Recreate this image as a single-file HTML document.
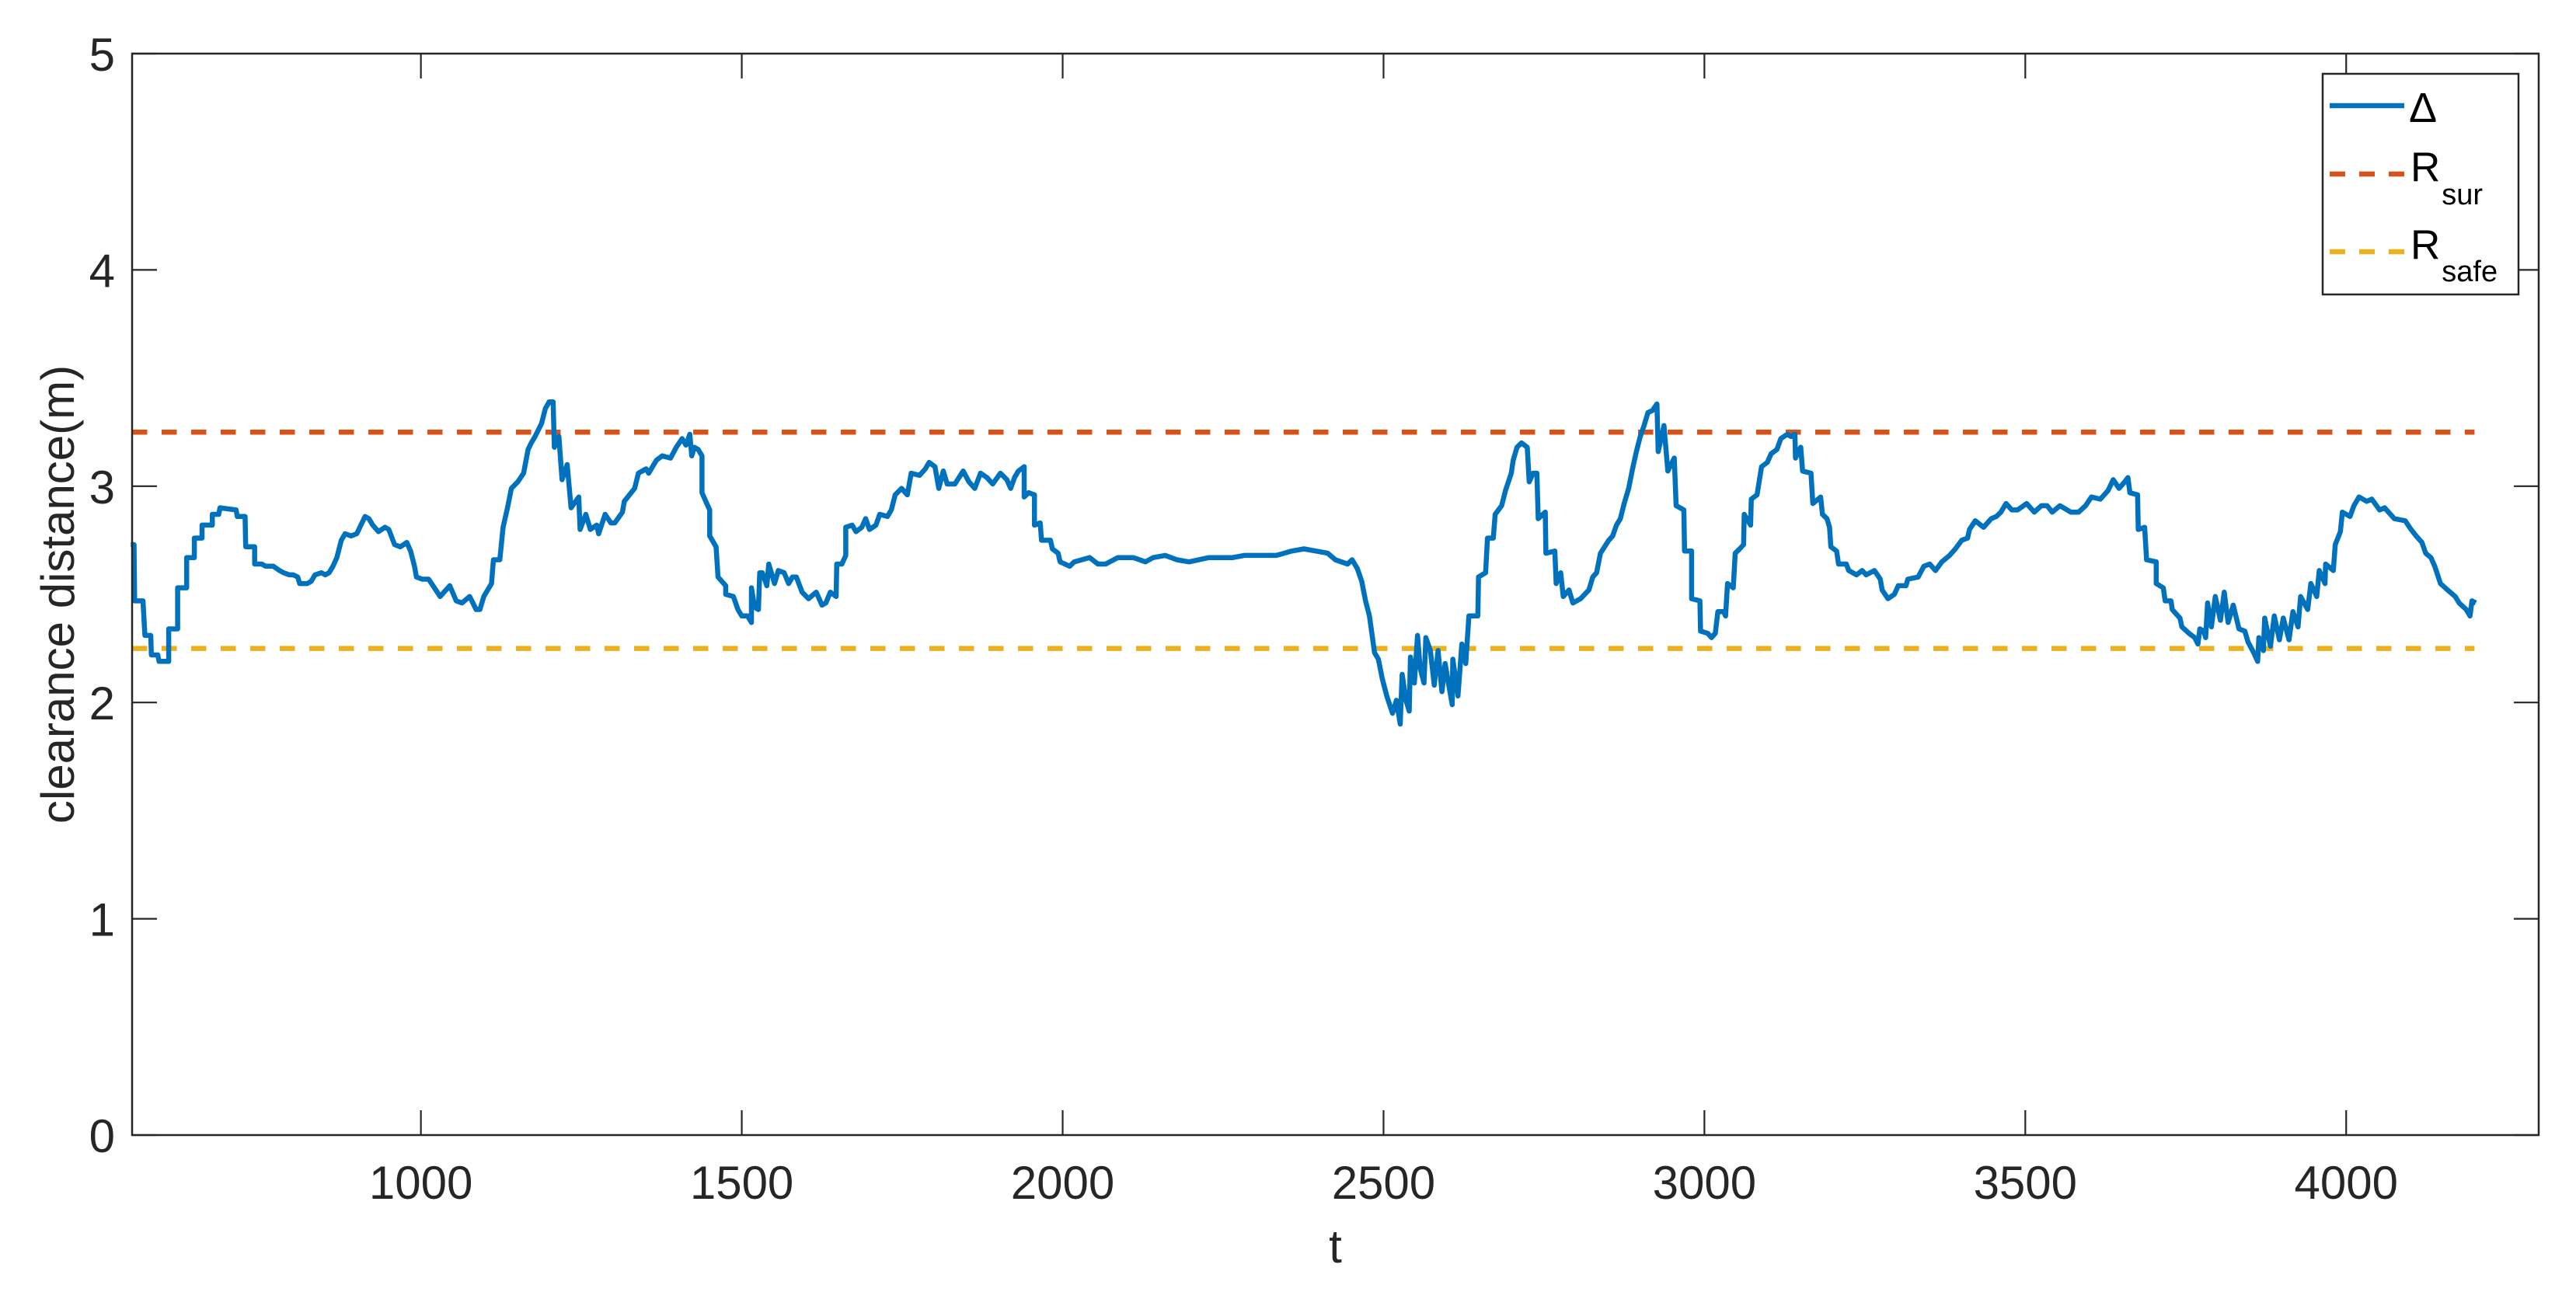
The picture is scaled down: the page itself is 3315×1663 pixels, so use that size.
<!DOCTYPE html>
<html><head><meta charset="utf-8"><style>
html,body{margin:0;padding:0;background:#fff;}
svg{display:block;}
text{font-family:"Liberation Sans",Arial,sans-serif;fill:#262626;}
</style></head><body>
<svg id="chart" width="3315" height="1663" viewBox="0 0 3315 1663" xmlns="http://www.w3.org/2000/svg">
<rect x="0" y="0" width="3315" height="1663" fill="#fff"/>
<g id="plot"></g>
<g id="axes"></g>
<g id="legend">
<rect x="2989" y="95" width="252" height="284" fill="#fff" stroke="#262626" stroke-width="2.5"/>
<line x1="2998" y1="136" x2="3094" y2="136" stroke="#0072BD" stroke-width="6.5"/>
<text x="3100" y="157" font-size="54" style="fill:#000">Δ</text>
<line x1="2998" y1="224" x2="3094" y2="224" stroke="#D95319" stroke-width="6.5" stroke-dasharray="20 18"/>
<text x="3102" y="233" font-size="53" style="fill:#000">R<tspan font-size="38" dx="2" dy="30">sur</tspan></text>
<line x1="2998" y1="324" x2="3094" y2="324" stroke="#EDB120" stroke-width="6.5" stroke-dasharray="20 18"/>
<text x="3102" y="333" font-size="53" style="fill:#000">R<tspan font-size="38" dx="2" dy="29">safe</tspan></text>
</g>
</svg>
<script>
const xTicks = [1000,1500,2000,2500,3000,3500,4000];
const yTicks = [0,1,2,3,4,5];
const xDomain = [550,4300];
const yDomain = [0,5];
const rSur = 3.25;
const rSafe = 2.25;
const refLineRange = [550,4200];
const tValues = [548,553,554,567,570,579,580,590,592,607,607,621,621,635,635,647,647,659,659,675,675,685,687,712,714,726,727,741,741,752,758,770,780,786,795,801,808,811,823,829,835,845,851,857,863,869,876,882,891,900,913,919,925,934,944,950,959,968,978,984,990,993,1002,1012,1021,1030,1036,1045,1055,1064,1076,1086,1092,1098,1110,1113,1123,1128,1135,1141,1151,1160,1167,1172,1178,1188,1194,1200,1206,1208,1215,1220,1228,1234,1246,1248,1257,1264,1274,1277,1287,1296,1302,1314,1317,1333,1339,1351,1355,1367,1376,1389,1398,1407,1413,1419,1422,1426,1432,1438,1438,1444,1450,1450,1460,1463,1475,1475,1487,1494,1500,1509,1515,1515,
1520,1526,1528,1532,1539,1542,1551,1557,1566,1573,1579,1585,1594,1604,1616,1625,1631,1638,1647,1648,1656,1662,1662,1672,1678,1687,1693,1699,1709,1715,1727,1733,1739,1749,1758,1764,1777,1786,1792,1801,1807,1814,1820,1832,1845,1854,1863,1872,1882,1891,1903,1913,1919,1925,1931,1940,1940,1947,1956,1956,1965,1967,1981,1984,1993,1996,2011,2018,2042,2055,2067,2086,2110,2129,2141,2160,2178,2197,2228,2246,2265,2283,2308,2333,2357,2376,2395,2413,2425,2444,2451,2459,2466,2472,2478,2486,
2492,2498,2505,2514,2520,2526,2529,2535,2540,2542,2548,2553,2557,2563,2566,2573,2579,2585,2591,2596,2600,2607,2608,2616,2622,2628,2633,2647,2648,2659,2662,2671,2674,2684,2690,2699,2702,2708,2715,2724,2727,2733,2739,2741,2752,2753,2767,2769,2776,2780,2789,2795,2807,2820,2826,2832,2838,2851,2857,2863,2869,2875,2882,2888,2894,2900,2906,2912,2919,2926,2928,2937,2943,2953,2956,2968,2969,2980,2980,2993,2994,3005,3011,3017,3021,3030,3033,3036,3045,3048,3055,3061,3062,3072,3073,3082,3089,3098,3104,3113,3119,3129,3135,3141,3142,3150,3153,3166,3169,3181,3184,3191,3195,3197,3206,3209,3221,3225,3237,3246,3252,3265,3274,3277,3286,3296,3302,3314,3317,3333,3342,3351,3360,3370,3382,3391,3401,3410,3413,3422,3435,3447,3455,
3462,3470,3479,3488,3502,3514,3525,3534,3542,3554,3571,3583,3594,3603,3617,3629,3637,3646,3655,3660,3663,3675,3676,3686,3689,3704,3704,3715,3718,3727,3729,3741,3744,3755,3764,3769,3772,3778,3781,3784,3790,3796,3804,3810,3816,3824,3833,3842,3847,3856,3862,3864,3871,3873,3882,3888,3896,3902,3911,3917,3925,3929,3940,3945,3954,3958,3967,3968,3980,3983,3991,3994,4006,4012,4020,4032,4040,4052,4060,4066,4075,4092,4101,4109,4118,4124,4132,4138,4147,4158,4170,4176,4187,4193,4196,4202];
const deltaValues = [2.73,2.73,2.47,2.47,2.31,2.31,2.22,2.22,2.19,2.19,2.34,2.34,2.53,2.53,2.67,2.67,2.76,2.76,2.82,2.82,2.87,2.87,2.90,2.89,2.86,2.86,2.72,2.72,2.64,2.64,2.63,2.63,2.61,2.60,2.59,2.59,2.58,2.55,2.55,2.56,2.59,2.60,2.59,2.60,2.63,2.67,2.75,2.78,2.77,2.78,2.86,2.85,2.82,2.79,2.81,2.80,2.73,2.72,2.74,2.70,2.63,2.58,2.57,2.57,2.53,2.49,2.51,2.54,2.47,2.46,2.49,2.43,2.43,2.49,2.55,2.66,2.66,2.81,2.90,2.99,3.02,3.06,3.17,3.20,3.23,3.29,3.36,3.39,3.39,3.18,3.23,3.03,3.10,2.90,2.95,2.80,2.87,2.80,2.82,2.78,2.87,2.83,2.83,2.88,2.93,2.99,3.06,3.08,3.06,3.12,3.14,3.13,3.18,3.22,3.19,3.24,3.14,3.18,3.17,3.14,2.97,2.93,2.89,2.77,2.72,2.58,2.54,2.50,2.49,2.43,2.40,2.40,2.37,2.53,
2.44,2.43,2.60,2.60,2.54,2.64,2.55,2.61,2.60,2.55,2.58,2.58,2.51,2.48,2.51,2.45,2.46,2.51,2.49,2.64,2.64,2.68,2.81,2.82,2.79,2.81,2.85,2.80,2.82,2.87,2.86,2.89,2.96,2.99,2.96,3.06,3.05,3.08,3.11,3.09,2.99,3.07,3.01,3.01,3.07,3.02,2.99,3.06,3.04,3.01,3.06,3.03,2.99,3.04,3.07,3.09,2.95,2.97,2.96,2.82,2.83,2.75,2.75,2.71,2.69,2.65,2.63,2.65,2.67,2.64,2.64,2.67,2.67,2.65,2.67,2.68,2.66,2.65,2.67,2.67,2.67,2.68,2.68,2.68,2.70,2.71,2.70,2.69,2.66,2.64,2.66,2.62,2.56,2.47,2.40,2.23,
2.20,2.11,2.03,1.95,2.01,1.90,2.13,2.01,1.96,2.21,2.09,2.31,2.16,2.09,2.30,2.24,2.08,2.24,2.05,2.18,2.11,1.99,2.20,2.03,2.27,2.18,2.40,2.40,2.58,2.60,2.76,2.76,2.87,2.91,2.98,3.06,3.12,3.18,3.20,3.18,3.02,3.06,3.06,2.85,2.88,2.69,2.70,2.55,2.60,2.49,2.52,2.46,2.48,2.52,2.58,2.60,2.69,2.75,2.77,2.82,2.85,2.92,2.99,3.08,3.16,3.23,3.28,3.34,3.35,3.38,3.16,3.28,3.07,3.13,2.91,2.89,2.70,2.70,2.48,2.47,2.33,2.32,2.30,2.32,2.42,2.42,2.40,2.55,2.53,2.69,2.71,2.73,2.87,2.82,2.94,2.96,3.09,3.11,3.15,3.17,3.22,3.24,3.23,3.24,3.13,3.18,3.07,3.06,2.92,2.95,2.87,2.85,2.81,2.72,2.70,2.64,2.64,2.61,2.59,2.61,2.59,2.61,2.57,2.52,2.48,2.50,2.54,2.54,2.57,2.58,2.63,2.64,2.61,2.65,2.68,2.71,2.75,2.76,2.80,2.84,2.81,2.85,2.86,
2.88,2.92,2.89,2.89,2.92,2.88,2.91,2.91,2.88,2.91,2.88,2.88,2.91,2.95,2.94,2.98,3.03,2.99,3.02,3.04,2.97,2.96,2.80,2.81,2.66,2.65,2.55,2.53,2.47,2.47,2.43,2.39,2.35,2.32,2.30,2.27,2.34,2.33,2.30,2.46,2.35,2.49,2.38,2.51,2.37,2.45,2.34,2.33,2.28,2.23,2.19,2.30,2.24,2.39,2.26,2.40,2.29,2.39,2.29,2.42,2.35,2.49,2.43,2.55,2.49,2.61,2.55,2.64,2.61,2.73,2.79,2.88,2.86,2.91,2.95,2.93,2.94,2.89,2.90,2.88,2.85,2.84,2.80,2.77,2.74,2.69,2.67,2.63,2.55,2.52,2.49,2.46,2.43,2.40,2.47,2.46];

const NS = "http://www.w3.org/2000/svg";
const L = 170, R = 3267, T = 69, B = 1461;
function xs(t){ return L + (t - xDomain[0]) / (xDomain[1] - xDomain[0]) * (R - L); }
function ys(v){ return B - (v - yDomain[0]) / (yDomain[1] - yDomain[0]) * (B - T); }
function mk(tag, attrs, parent){
  const e = document.createElementNS(NS, tag);
  for (const k in attrs) e.setAttribute(k, attrs[k]);
  parent.appendChild(e);
  return e;
}
const plot = document.getElementById('plot');
const axes = document.getElementById('axes');

// reference lines
const sur = mk('line', {x1: xs(refLineRange[0]), x2: xs(refLineRange[1]), y1: ys(rSur), y2: ys(rSur), stroke: '#D95319', 'stroke-width': 6.5, 'stroke-dasharray': '19.5 18.5'}, plot);


const safe = mk('line', {x1: xs(refLineRange[0]), x2: xs(refLineRange[1]), y1: ys(rSafe), y2: ys(rSafe), stroke: '#EDB120', 'stroke-width': 6.5, 'stroke-dasharray': '19.5 18.5'}, plot);



// delta series
let d = '';
for (let i = 0; i < tValues.length; i++) {
  d += (i ? 'L' : 'M') + xs(tValues[i]).toFixed(1) + ',' + ys(deltaValues[i]).toFixed(1);
}
const path = mk('path', {d: d, fill: 'none', stroke: '#0072BD', 'stroke-width': 6.5, 'stroke-linejoin': 'round'}, plot);



// frame
const frame = mk('rect', {x: L, y: T, width: R - L, height: B - T, fill: 'none', stroke: '#262626', 'stroke-width': 2.5}, axes);



// x ticks
xTicks.forEach(function(t){
  const x = xs(t);
  const tk = mk('path', {d: 'M' + x + ',' + B + 'V' + (B - 32) + 'M' + x + ',' + T + 'V' + (T + 32), stroke: '#262626', 'stroke-width': 2.2}, axes);
  
  
  const lb = mk('text', {x: x, y: 1543, 'font-size': 60, 'text-anchor': 'middle'}, axes);
  lb.textContent = t;
  
  
});
// y ticks
yTicks.forEach(function(v){
  const y = ys(v);
  const tk = mk('path', {d: 'M' + L + ',' + y + 'H' + (L + 32) + 'M' + R + ',' + y + 'H' + (R - 32), stroke: '#262626', 'stroke-width': 2.2}, axes);
  
  
  const lb = mk('text', {x: 148, y: y + 22, 'font-size': 60, 'text-anchor': 'end'}, axes);
  lb.textContent = v;
  
  
});
const xt = mk('text', {x: (L + R) / 2, y: 1625, 'font-size': 60, 'text-anchor': 'middle'}, axes);
xt.textContent = 't';


const yt = mk('text', {x: 0, y: 0, 'font-size': 60, 'text-anchor': 'middle', transform: 'translate(95,' + ((T + B) / 2) + ') rotate(-90)'}, axes);
yt.textContent = 'clearance distance(m)';


</script>
</body></html>
